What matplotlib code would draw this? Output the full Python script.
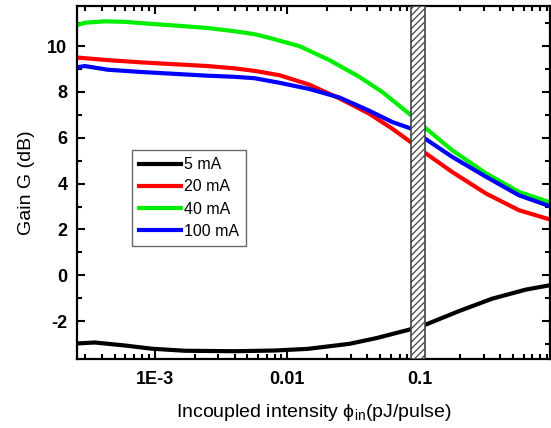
import matplotlib
matplotlib.use('Agg')
import matplotlib.pyplot as plt
from matplotlib.ticker import FixedLocator, FixedFormatter, LogLocator, MultipleLocator, NullFormatter

plt.rcParams['font.family'] = ['Liberation Sans', 'DejaVu Sans']
plt.rcParams['mathtext.fontset'] = 'custom'
plt.rcParams['mathtext.rm'] = 'Liberation Sans'
plt.rcParams['mathtext.it'] = 'Liberation Sans'
plt.rcParams['axes.unicode_minus'] = False
plt.rcParams['hatch.linewidth'] = 0.9

# incoupled intensity (pJ/pulse) and gain (dB) for each drive current
phi_5 = [2.62e-4, 3.54e-4, 5.95e-4, 9.49e-4, 1.68e-3, 4.0e-3, 7.98e-3, 0.0141,
         0.0292, 0.0467, 0.0826, 0.111, 0.196, 0.348, 0.627, 0.933]
gain_5 = [-2.97, -2.93, -3.06, -3.2, -3.29, -3.31, -3.28, -3.21,
          -2.99, -2.74, -2.37, -2.14, -1.56, -1.02, -0.62, -0.44]

phi_20 = [2.62e-4, 4.43e-4, 7.98e-4, 1.41e-3, 2.5e-3, 4.0e-3, 5.65e-3, 8.71e-3,
          0.0146, 0.0246, 0.0414, 0.0615, 0.0855, 0.111, 0.174, 0.313, 0.555, 0.933]
gain_20 = [9.5, 9.39, 9.29, 9.21, 9.13, 9.03, 8.92, 8.73,
           8.32, 7.72, 7.05, 6.4, 5.8, 5.31, 4.51, 3.57, 2.84, 2.45]

phi_40 = [2.62e-4, 2.98e-4, 4.21e-4, 5.95e-4, 8.41e-4, 1.41e-3, 2.5e-3, 4.0e-3,
          5.65e-3, 7.32e-3, 0.0123, 0.0207, 0.0348, 0.0518, 0.0855, 0.111,
          0.174, 0.313, 0.555, 0.933]
gain_40 = [10.92, 11.02, 11.08, 11.06, 10.99, 10.9, 10.79, 10.65,
           10.52, 10.36, 10.0, 9.39, 8.66, 8.0, 6.98, 6.4,
           5.46, 4.45, 3.64, 3.2]

phi_100 = [2.62e-4, 2.98e-4, 4.43e-4, 7.98e-4, 1.41e-3, 2.5e-3, 4.0e-3, 5.65e-3,
           8.71e-3, 0.0146, 0.0246, 0.0414, 0.0615, 0.0855, 0.111, 0.174,
           0.313, 0.555, 0.933]
gain_100 = [9.08, 9.13, 8.97, 8.87, 8.79, 8.71, 8.66, 8.6,
            8.4, 8.13, 7.76, 7.18, 6.69, 6.4, 5.93, 5.17,
            4.3, 3.49, 3.03]

labels = ['5 mA', '20 mA', '40 mA', '100 mA']
colors = ['#000000', '#ff0000', '#00ee00', '#0000ff']

band = (0.0855, 0.109)
xticks = [1e-3, 0.01, 0.1]
xticklabels = ['1E-3', '0.01', '0.1']

fig = plt.figure(figsize=(5.51, 4.28), dpi=100)
ax = fig.add_axes([77 / 551, 69 / 428, 473 / 551, 353 / 428])

series = [(phi_5, gain_5), (phi_20, gain_20), (phi_40, gain_40), (phi_100, gain_100)]
for (x, g), lab, c in zip(series, labels, colors):
    ax.plot(x, g, color=c, lw=3, label=lab, solid_joinstyle='round')

# hatched region between the two measurement ranges
ax.axvspan(band[0], band[1], facecolor='white', edgecolor='#444444',
           hatch='/////', lw=1.2, zorder=5)

ax.set_xscale('log')
ax.set_xlim(2.6e-4, 0.95)
ax.set_ylim(-3.65, 11.75)

ax.xaxis.set_major_locator(FixedLocator(xticks))
ax.xaxis.set_major_formatter(FixedFormatter(xticklabels))
ax.xaxis.set_minor_locator(LogLocator(base=10, subs=range(2, 10), numticks=20))
ax.xaxis.set_minor_formatter(NullFormatter())
ax.yaxis.set_major_locator(MultipleLocator(2))
ax.yaxis.set_minor_locator(MultipleLocator(1))

ax.tick_params(which='both', direction='in', top=True, right=True, width=1.5)
ax.tick_params(which='major', length=6, labelsize=13)
ax.tick_params(axis='x', which='major', pad=9)
ax.tick_params(axis='y', which='major', pad=7)
ax.tick_params(which='minor', length=3.5)
for lab in ax.get_xticklabels() + ax.get_yticklabels():
    lab.set_fontweight('bold')
for s in ax.spines.values():
    s.set_linewidth(1.6)

ax.set_xlabel(r'Incoupled intensity $\mathrm{\phi}_{\mathrm{in}}$(pJ/pulse)', fontsize=14, labelpad=10)
ax.set_ylabel('Gain G (dB)', fontsize=14, labelpad=9)

leg = ax.legend(loc='upper left', bbox_to_anchor=(0.116, 0.592), fontsize=11.5,
                frameon=True, fancybox=False, edgecolor='#444444',
                handlelength=2.6, handletextpad=0.2, labelspacing=0.45,
                borderpad=0.45, borderaxespad=0)
leg.get_frame().set_linewidth(1.0)

fig.savefig('out.png', dpi=100)
